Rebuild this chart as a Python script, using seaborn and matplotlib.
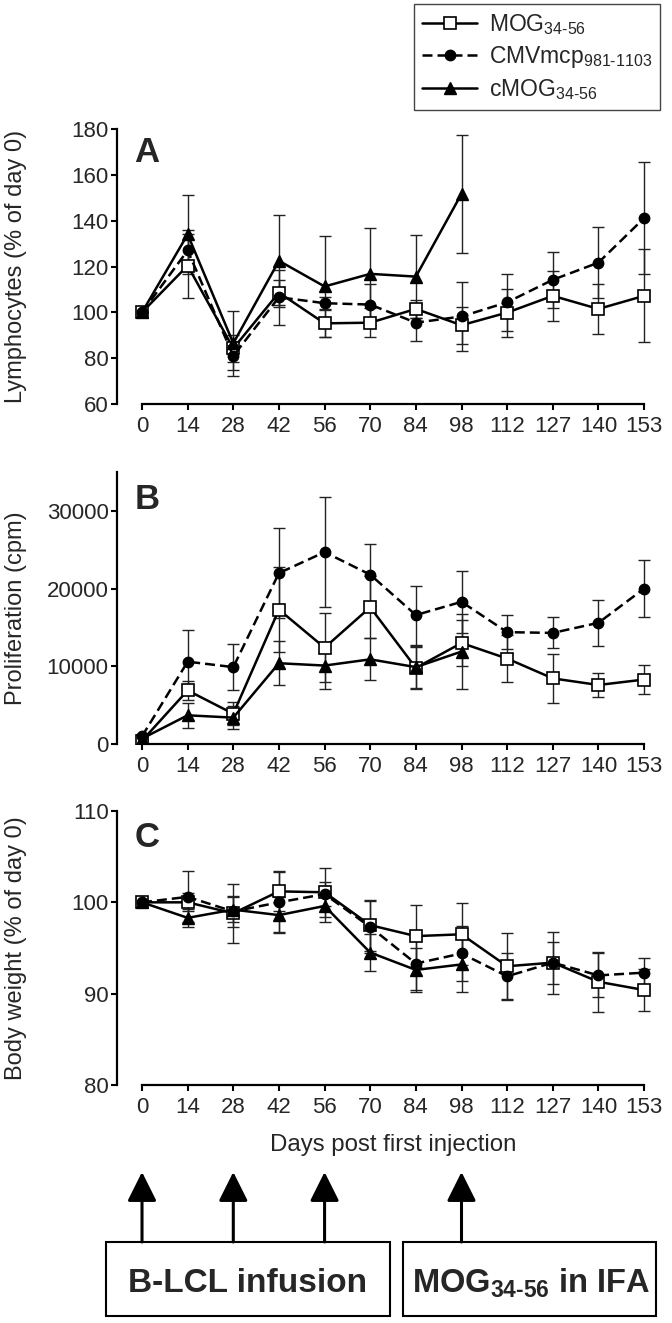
import numpy as np
import pandas as pd
import matplotlib
matplotlib.use('Agg')
import matplotlib.pyplot as plt
from matplotlib.lines import Line2D
from matplotlib.patches import Rectangle
import seaborn as sns

# x categories (equally spaced on the chart)
days = ['0', '14', '28', '42', '56', '70', '84', '98', '112', '127', '140', '153']

# Panel A - lymphocytes (% of day 0)
lym_mog = [100, 120.4, 84.3, 108.6, 95.2, 95.5, 101.5, 94.4, 99.9, 107.2, 101.5, 107.2]
lym_mog_err = [0, 14, 6, 5.6, 6, 6.4, 4, 8, 10.5, 11, 11, 20.3]
lym_cmv = [100, 127, 81, 106.6, 104, 103.4, 95.5, 98.2, 104.4, 114.2, 121.7, 141.1]
lym_cmv_err = [0, 9, 6, 12, 2.5, 9, 8, 15, 12.4, 12.2, 15.5, 24.5]
lym_cmog = [100, 134, 86.5, 122.5, 111.3, 116.8, 115.6, 151.7]
lym_cmog_err = [0, 17.3, 14.3, 20, 22, 20, 18, 25.7]

# Panel B - proliferation (cpm)
pro_mog = [430, 6900, 3900, 17300, 12400, 17600, 9800, 13000, 11000, 8450, 7600, 8300]
pro_mog_err = [200, 1200, 1500, 5500, 4400, 4000, 2700, 3000, 3000, 3200, 1500, 1900]
pro_cmv = [1000, 10600, 9900, 22000, 24700, 21800, 16600, 18300, 14400, 14300, 15600, 20000]
pro_cmv_err = [300, 4100, 3000, 5800, 7100, 4000, 3800, 4000, 2200, 2000, 3000, 3700]
pro_cmog = [700, 3700, 3400, 10400, 10100, 10900, 9900, 11900]
pro_cmog_err = [200, 1600, 1500, 2800, 3000, 2700, 2700, 4800]

# Panel C - body weight (% of day 0)
bw_mog = [100, 100.0, 98.8, 101.2, 101.1, 97.5, 96.3, 96.5, 93.0, 93.4, 91.3, 90.4]
bw_mog_err = [0.3, 1.0, 3.2, 2.2, 2.7, 2.8, 3.4, 3.4, 3.6, 3.4, 3.3, 2.3]
bw_cmv = [100, 100.6, 99.0, 100.0, 100.9, 97.3, 93.3, 94.4, 91.9, 93.4, 92.0, 92.3]
bw_cmv_err = [0.3, 2.8, 1.7, 3.3, 1.3, 2.8, 2.9, 3.0, 2.6, 2.3, 2.4, 1.6]
bw_cmog = [100, 98.3, 99.2, 98.6, 99.6, 94.5, 92.6, 93.2]
bw_cmog_err = [0.3, 1.0, 1.4, 2.0, 1.8, 2.0, 2.4, 3.0]

series_labels = ['MOG$_{\\mathregular{34\u201056}}$',
                 'CMVmcp$_{\\mathregular{981\u20101103}}$',
                 'cMOG$_{\\mathregular{34\u201056}}$']

sns.set_style('ticks')
plt.rcParams['font.family'] = ['Liberation Sans', 'DejaVu Sans']
plt.rcParams['mathtext.fontset'] = 'custom'
plt.rcParams['mathtext.rm'] = 'Liberation Sans'

styles = [
    dict(marker='s', ms=8, mfc='white', mec='black', mew=1.2, ls='-'),
    dict(marker='o', ms=7.5, mfc='black', mec='black', mew=1, ls=(0, (4, 2))),
    dict(marker='^', ms=8.5, mfc='black', mec='black', mew=1, ls='-'),
]

fig = plt.figure(figsize=(6.72, 13.23), dpi=100)

left, width = 117 / 672, (650 - 117) / 672
ax_a = fig.add_axes([left, 0.6946, width, 0.2079])
ax_b = fig.add_axes([left, 0.4376, width, 0.2056])
ax_c = fig.add_axes([left, 0.1799, width, 0.2071])


def draw_panel(ax, vals, errs, ylim, yticks, ylabel, letter, letter_y):
    for (v, e), st in zip(zip(vals, errs), styles):
        x = np.arange(len(v))
        ax.errorbar(x, v, yerr=e, fmt='none', ecolor='#222222', elinewidth=1.0,
                    capsize=4, capthick=1.0, zorder=2)
        df = pd.DataFrame({'x': x, 'y': v})
        sns.lineplot(data=df, x='x', y='y', ax=ax, color='black', lw=1.8,
                     linestyle=st['ls'], marker=st['marker'], markersize=st['ms'],
                     markerfacecolor=st['mfc'], markeredgecolor=st['mec'],
                     markeredgewidth=st['mew'], errorbar=None, zorder=3)
    ax.set_xlim(-0.548, 11.13)
    ax.set_ylim(*ylim)
    ax.set_yticks(yticks)
    ax.set_xticks(range(len(days)))
    ax.set_xticklabels(days)
    ax.tick_params(axis='both', labelsize=16, width=1.5, length=4.5, color='black')
    ax.tick_params(axis='y', pad=1.5)
    ax.tick_params(axis='x', pad=4)
    sns.despine(ax=ax)
    ax.spines['bottom'].set_bounds(0, 11)
    for s in ['left', 'bottom']:
        ax.spines[s].set_linewidth(1.6)
        ax.spines[s].set_color('black')
    ax.set_xlabel('')
    ax.set_ylabel(ylabel, fontsize=17)
    ax.yaxis.set_label_coords(-0.168, 0.5)
    ax.text(0.033, letter_y, letter, transform=ax.transAxes, fontsize=25,
            fontweight='bold', va='top', ha='left')


draw_panel(ax_a, [lym_mog, lym_cmv, lym_cmog], [lym_mog_err, lym_cmv_err, lym_cmog_err],
           (60, 180), range(60, 181, 20), 'Lymphocytes (% of day 0)', 'A', 0.975)
draw_panel(ax_b, [pro_mog, pro_cmv, pro_cmog], [pro_mog_err, pro_cmv_err, pro_cmog_err],
           (0, 35000), [0, 10000, 20000, 30000], 'Proliferation (cpm)', 'B', 0.96)
draw_panel(ax_c, [bw_mog, bw_cmv, bw_cmog], [bw_mog_err, bw_cmv_err, bw_cmog_err],
           (80, 110), [80, 90, 100, 110], 'Body weight (% of day 0)', 'C', 0.965)

ax_c.set_xlabel('Days post first injection', fontsize=17.3, va='baseline')
ax_c.xaxis.set_label_coords(0.518, -0.241)

# legend
handles = [Line2D([0], [0], color='black', lw=1.8, linestyle=st['ls'], marker=st['marker'],
                  markersize=st['ms'], markerfacecolor=st['mfc'], markeredgecolor=st['mec'],
                  markeredgewidth=st['mew']) for st in styles]
fig.legend(handles, series_labels, loc='upper right', bbox_to_anchor=(660 / 672, 1 - 4 / 1323),
           fontsize=16.5, frameon=True, fancybox=False, edgecolor='#444444', framealpha=1,
           handlelength=2.4, handletextpad=0.5, labelspacing=0.3, borderpad=0.35,
           borderaxespad=0, numpoints=1)

# injection arrows (days 0, 28, 56 -> B-LCL ; day 98 -> MOG in IFA)
arrow_days = ['0', '28', '56', '98']
for d in arrow_days:
    xi = days.index(d)
    ax_c.annotate('', xy=(xi, 1 - 1172 / 1323), xytext=(xi, 1 - 1242 / 1323),
                  xycoords=('data', 'figure fraction'), textcoords=('data', 'figure fraction'),
                  arrowprops=dict(arrowstyle='-|>,head_length=0.9,head_width=0.45',
                                  mutation_scale=20, lw=2.2, color='black',
                                  shrinkA=0, shrinkB=0),
                  annotation_clip=False)

box_b, box_t = 1 - 1316 / 1323, 1 - 1242 / 1323
fig.add_artist(Rectangle((106 / 672, box_b), (390 - 106) / 672, box_t - box_b,
                         transform=fig.transFigure, fill=False, lw=1.5, ec='black'))
fig.add_artist(Rectangle((403 / 672, box_b), (656 - 403) / 672, box_t - box_b,
                         transform=fig.transFigure, fill=False, lw=1.5, ec='black'))
fig.text(248 / 672, 1 - 1292 / 1323, 'B-LCL infusion', ha='center', va='baseline',
         fontsize=24, fontweight='bold')
fig.text(531 / 672, 1 - 1292 / 1323, 'MOG$_{\\mathregular{34\u201056}}$ in IFA', ha='center',
         va='baseline', fontsize=23.5, fontweight='bold')

fig.savefig('out.png', dpi=100)
